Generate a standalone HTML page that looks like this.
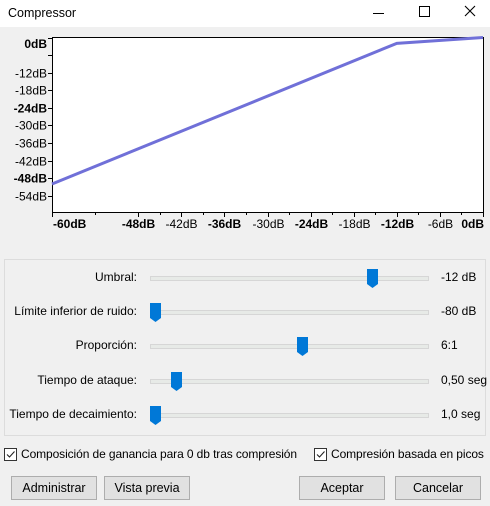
<!DOCTYPE html>
<html><head><meta charset="utf-8"><style>
body{margin:0;width:490px;height:506px;background:#f0f0f0;font-family:"Liberation Sans",sans-serif;font-size:12px;color:#000;position:relative;overflow:hidden}
.abs{position:absolute}
.title{left:0;top:0;width:490px;height:27px;background:#fff}
.lbl{right:353px;text-align:right;white-space:nowrap}
.track{left:150px;width:277px;height:3px;background:#e7eae7;border:1px solid #d6d6d6}
.val{left:441px;white-space:nowrap}
.btn{top:476px;height:22px;background:#e1e1e1;border:1px solid #adadad;text-align:center;line-height:22px;font-size:12.5px}
.cb{width:11px;height:11px;border:1px solid #333;background:#fff;top:448px}
.cbl{top:447px;font-size:12px;white-space:nowrap;letter-spacing:-0.1px}
</style></head><body>
<div class="abs title">
<span class="abs" style="left:8px;top:6px;font-size:12.5px">Compressor</span>
<span class="abs" style="left:373px;top:13px;width:11px;height:1px;background:#000"></span>
<span class="abs" style="left:419px;top:6px;width:9px;height:9px;border:1px solid #000"></span>
<svg class="abs" style="left:464px;top:5px" width="12" height="12"><path d="M1 1L11 11M11 1L1 11" stroke="#000" stroke-width="1.1"/></svg>
</div>
<svg id="chart" class="abs" style="left:0;top:27px" width="490" height="210"></svg>
<div class="abs" style="left:4px;top:259px;width:480px;height:175px;border:1px solid #dcdcdc"></div>
<div id="sliders"></div>
<div class="abs cb" style="left:4px"><svg width="11" height="11" style="display:block"><path d="M2 5.5L4.5 8L9.5 2.5" stroke="#222" fill="none" stroke-width="1.1"/></svg></div>
<span class="abs cbl" style="left:21px">Composición de ganancia para 0 db tras compresión</span>
<div class="abs cb" style="left:314px"><svg width="11" height="11" style="display:block"><path d="M2 5.5L4.5 8L9.5 2.5" stroke="#222" fill="none" stroke-width="1.1"/></svg></div>
<span class="abs cbl" style="left:331px">Compresión basada en picos</span>
<div class="abs btn" style="left:11px;width:84px">Administrar</div>
<div class="abs btn" style="left:104px;width:84px">Vista previa</div>
<div class="abs btn" style="left:299px;width:84px">Aceptar</div>
<div class="abs btn" style="left:395px;width:84px">Cancelar</div>
<script>
const inputDb=[-60,-12,0];
const outputDb=[-50,-2,0];
const yTicks=[0,-6,-12,-18,-24,-30,-36,-42,-48,-54];
const yLabels=["0dB","","-12dB","-18dB","-24dB","-30dB","-36dB","-42dB","-48dB","-54dB"];
const yBold=[1,0,0,0,1,0,0,0,1,0];
const xTicks=[-60,-48,-42,-36,-30,-24,-18,-12,-6,0];
const xLabels=["-60dB","-48dB","-42dB","-36dB","-30dB","-24dB","-18dB","-12dB","-6dB","0dB"];
const xBold=[1,1,0,1,0,1,0,1,0,1];
const xMinor=[-54,-45,-39,-33,-27,-21,-15,-9,-3];
const NS="http://www.w3.org/2000/svg";
const L=52,R=483,T=10,B=185;
const xs=d=>R+d*(R-L)/60;
const ys=d=>T+0.5-d*2.93;
const svg=document.getElementById('chart');
function mk(t,a){const e=document.createElementNS(NS,t);for(const k in a)e.setAttribute(k,a[k]);svg.appendChild(e);return e;}
const box=mk('rect',{x:L+0.5,y:T+0.5,width:R-L,height:B-T,fill:'#fff',stroke:'#000'});


yTicks.forEach((d,i)=>{
 const y=Math.round(ys(d))+0.5;
 const t=mk('line',{x1:L-4,x2:L,y1:y,y2:y,stroke:'#000'});
 
 
 if(yLabels[i]){
  const ty=Math.max(y+4,T+11);
  const tx=mk('text',{x:L-5,y:ty,'text-anchor':'end','font-size':'12','font-weight':yBold[i]?'bold':'normal','font-family':'Liberation Sans'});
  tx.textContent=yLabels[i];
  
  
 }
});
xTicks.forEach((d,i)=>{
 const x=Math.round(xs(d))+0.5;
 const t=mk('line',{x1:x,x2:x,y1:B,y2:B+5,stroke:'#000'});
 
 
 const tx=mk('text',{x:x,y:B+16,'text-anchor':'middle','font-size':'12','font-weight':xBold[i]?'bold':'normal','font-family':'Liberation Sans'});
 if(d===0){tx.setAttribute('text-anchor','end');tx.setAttribute('x',R+1);}
 if(d===-60){tx.setAttribute('text-anchor','start');tx.setAttribute('x',L+1);}
 tx.textContent=xLabels[i];
 
 
});
xMinor.forEach(d=>{
 const x=Math.round(xs(d))+0.5;
 const t=mk('line',{x1:x,x2:x,y1:B,y2:B+3,stroke:'#000'});
 
 
});
const pts=inputDb.map((d,i)=>xs(d)+','+ys(outputDb[i])).join(' ');
const line=mk('polyline',{points:pts,fill:'none',stroke:'#7070d8','stroke-width':'3'});



const sLabels=["Umbral:","Límite inferior de ruido:","Proporción:","Tiempo de ataque:","Tiempo de decaimiento:"];
const sValues=["-12 dB","-80 dB","6:1","0,50 seg","1,0 seg"];
const sPos=[0.81,0,0.55,0.08,0];
const sNames=["threshold","noise-floor","ratio","attack-time","release-time"];
const wrap=document.getElementById('sliders');
sLabels.forEach((s,i)=>{
 const cy=278+i*34.2;
 const l=document.createElement('span');l.className='abs lbl';l.style.top=(cy-8)+'px';l.textContent=s;
 
 
 wrap.appendChild(l);
 const tr=document.createElement('div');tr.className='abs track';tr.style.top=(cy-2)+'px';
 
 
 wrap.appendChild(tr);
 const th=document.createElementNS(NS,'svg');th.setAttribute('width','11');th.setAttribute('height','19');
 th.setAttribute('class','abs');th.style.left=(150+sPos[i]*268)+'px';th.style.top=(cy-9)+'px';
 th.innerHTML='<path d="M0 0H11V15L5.5 19L0 15Z" fill="#0078d7"/>';
 
 
 wrap.appendChild(th);
 const v=document.createElement('span');v.className='abs val';v.style.top=(cy-8)+'px';v.textContent=sValues[i];
 
 
 wrap.appendChild(v);
});
</script>
</body></html>
